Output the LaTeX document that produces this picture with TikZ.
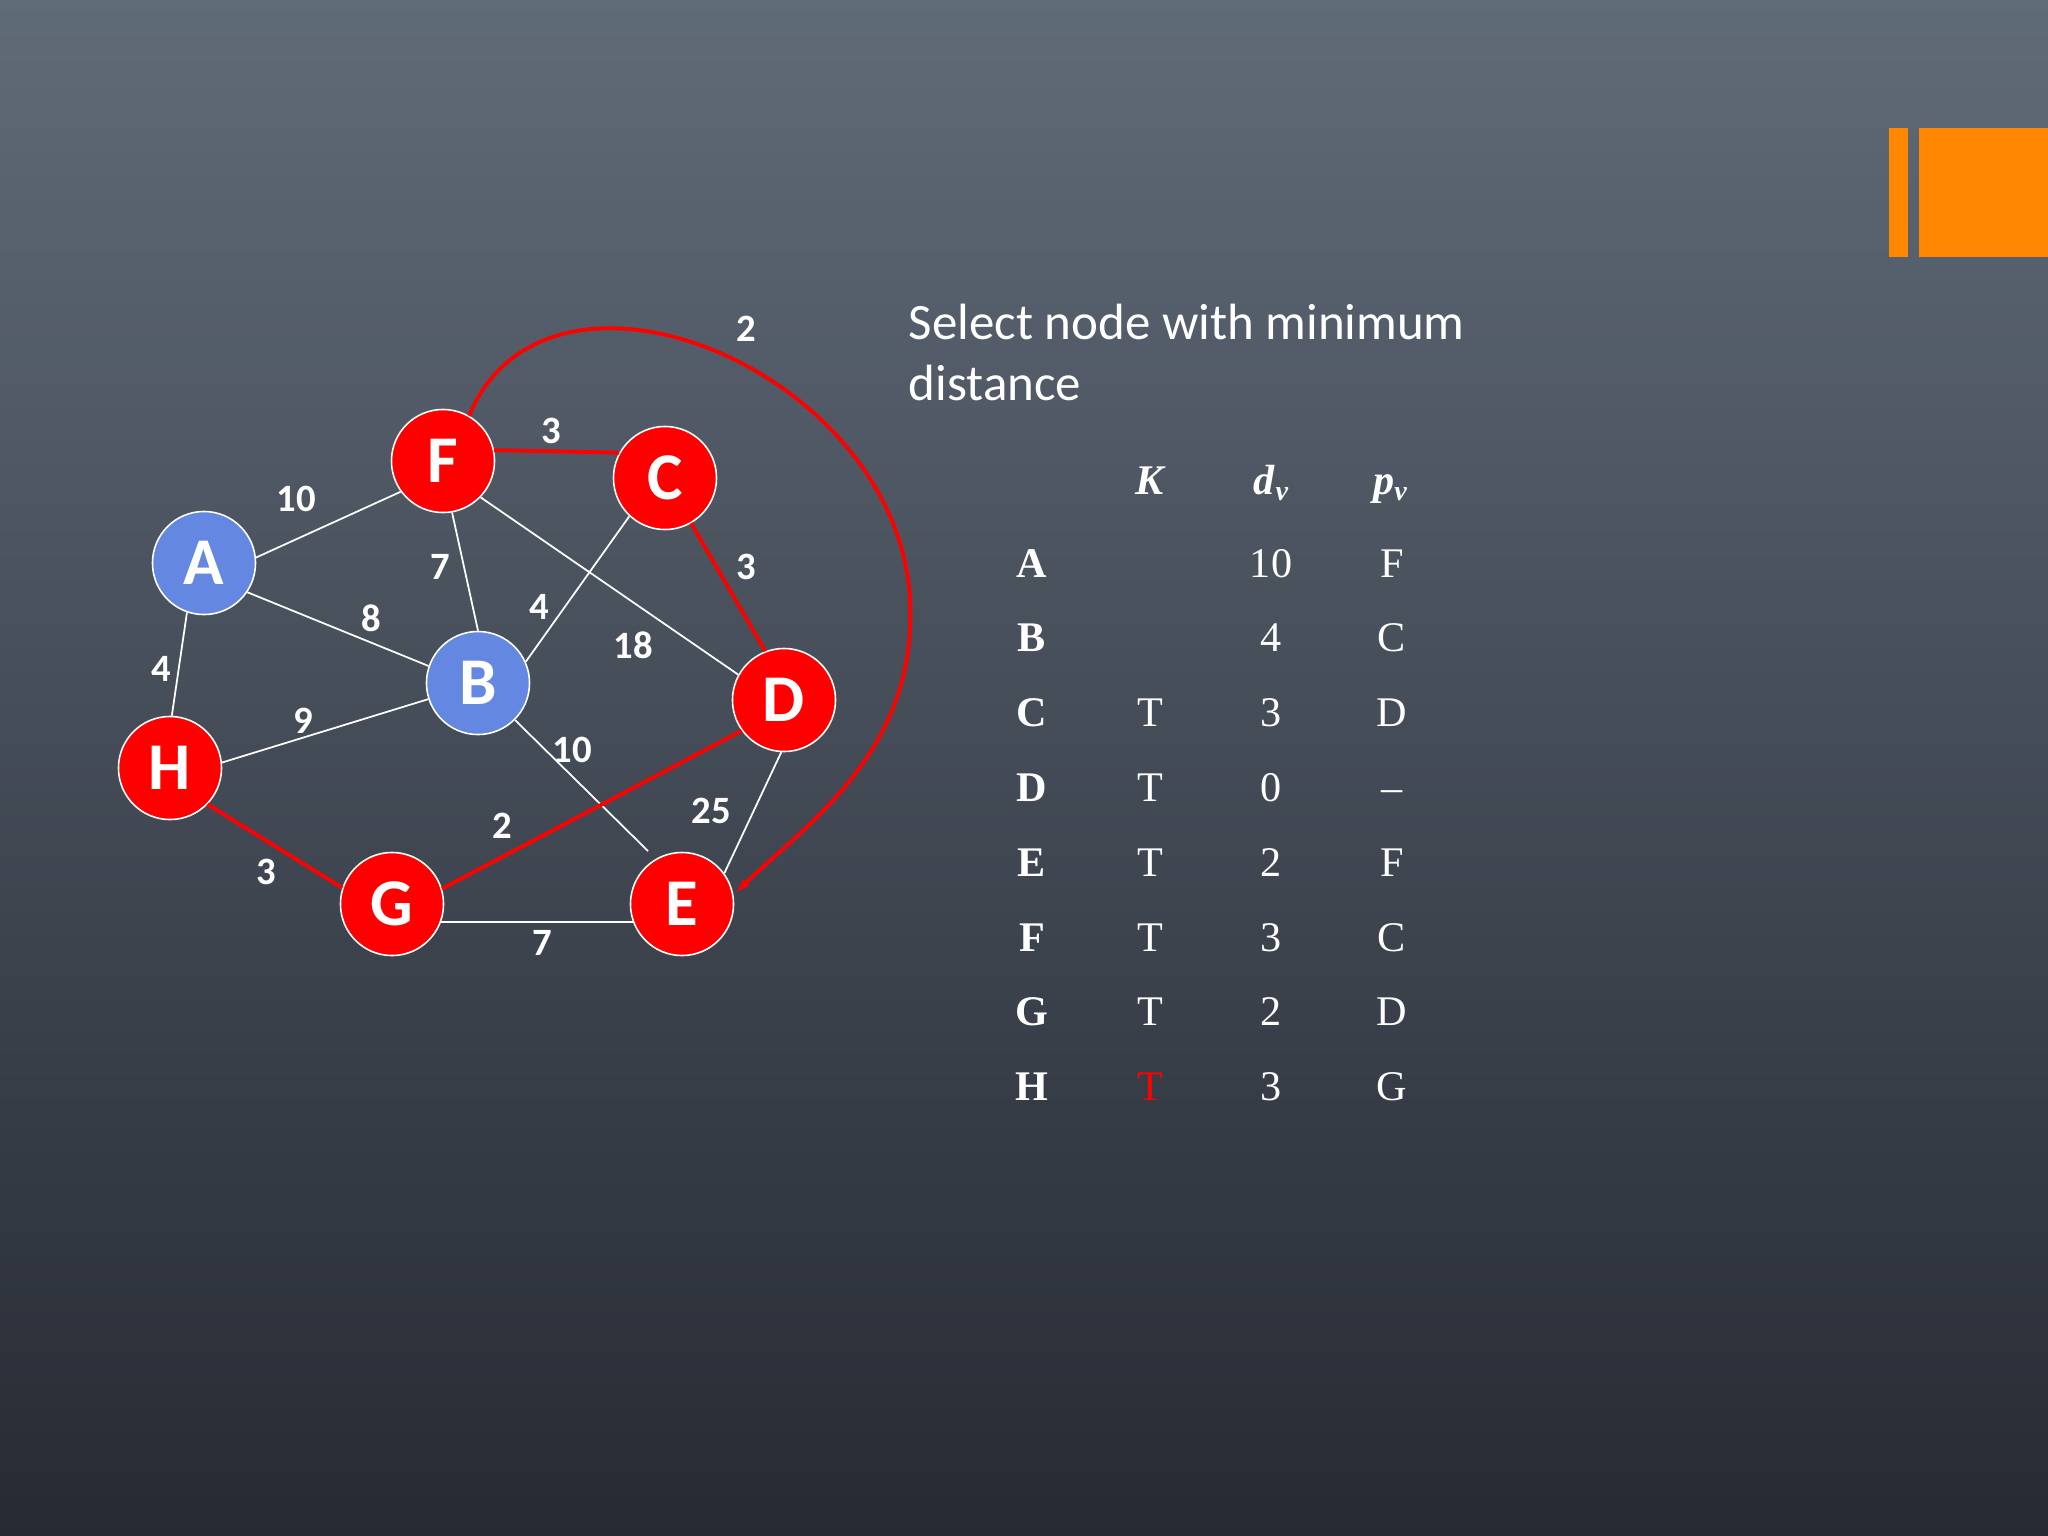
\documentclass[tikz,border=0pt]{standalone}
\usepackage{fontspec}
\setmainfont{Liberation Serif}
\newfontfamily\calfont{Carlito}
\usetikzlibrary{arrows.meta}
\definecolor{bgtop}{RGB}{96,107,120}
\definecolor{bgbot}{RGB}{38,42,51}
\definecolor{vblue}{RGB}{100,135,225}
\definecolor{vred}{RGB}{255,0,0}
\definecolor{barorange}{RGB}{255,136,0}

\begin{document}
\begin{tikzpicture}[x=0.01cm,y=-0.01cm,
  vtx/.style={circle,draw=white,line width=0.45pt,minimum size=1.03cm,inner sep=0pt,
    text=white,font=\calfont\bfseries\fontsize{19}{19}\selectfont},
  bvtx/.style={vtx,fill=vblue},
  rvtx/.style={vtx,fill=vred},
  wedge/.style={draw=white,line width=0.5pt},
  redge/.style={draw=vred,line width=1.1pt},
  wlab/.style={text=white,inner sep=0pt,font=\calfont\bfseries\fontsize{11}{11}\selectfont},
  cell/.style={anchor=base,text=white,inner sep=0pt,font=\fontsize{12}{12}\selectfont}]
\useasboundingbox (0,0) rectangle (2048,1536);
\shade[top color=bgtop,bottom color=bgbot] (0,0) rectangle (2048,1536);
\fill[barorange] (1889,128) rectangle (1908,257);
\fill[barorange] (1919,128) rectangle (2048,257);

% vertices
\node[bvtx] (A) at (204,563) {A};
\node[rvtx] (F) at (443,461) {F};
\node[rvtx] (C) at (665,478) {C};
\node[bvtx] (B) at (478,683) {B};
\node[rvtx] (D) at (784,700) {D};
\node[rvtx] (H) at (170,768) {H};
\node[rvtx] (G) at (392,904) {G};
\node[rvtx] (E) at (682,904) {E};
\coordinate (BEend) at (648,851);

% edges
\draw[wedge] (A.6) -- (F.216);
\draw[wedge] (A.-34) -- (B.161);
\draw[wedge] (A.-109) -- (H.88);
\draw[wedge] (F.-80) -- (B.90);
\draw[wedge] (C.227) -- (B.24);
\draw[wedge] (F.-44) -- (D.151);
\draw[wedge] (H.6) -- (B.198);
\draw[wedge] (B.-45) -- (BEend);
\draw[wedge] (D.267) -- (E.36);
\draw[wedge] (G.-20) -- (E.200);
\draw[redge] (F.12) -- (C.151);
\draw[redge] (C.-60) -- (D.111);
\draw[redge] (D.216) -- (G.17);
\draw[redge] (H.-44) -- (G.162);
\draw[redge,-{Latex[length=5pt,width=2.6pt]}] (F.60) .. controls (550,220) and (925,380) .. (910,627)
  .. controls (905,760) and (800,830) .. (E.10);

% weights
\node[wlab] (wAF) at (296,499) {10};
\node[wlab] (wFC) at (551,431) {3};
\node[wlab] (wFE) at (746,329) {2};
\node[wlab] (wFB) at (440,567) {7};
\node[wlab] (wCD) at (746,567) {3};
\node[wlab] (wAB) at (371,618) {8};
\node[wlab] (wCB) at (539,607) {4};
\node[wlab] (wFD) at (633,645) {18};
\node[wlab] (wAH) at (161,669) {4};
\node[wlab] (wHB) at (303,721) {9};
\node[wlab] (wBE) at (572,750) {10};
\node[wlab] (wDE) at (711,811) {25};
\node[wlab] (wDG) at (502,826) {2};
\node[wlab] (wHG) at (266,872) {3};
\node[wlab] (wGE) at (542,943) {7};

% title
\node[anchor=base west,text=white,inner sep=0pt,font=\calfont\fontsize{14.5}{14.5}\selectfont]
  (title1) at (908,339) {Select node with minimum};
\node[anchor=base west,text=white,inner sep=0pt,font=\calfont\fontsize{14.5}{14.5}\selectfont]
  (title2) at (908,400) {distance};

% table
\node[cell] (hK) at (1151,494) {\textbf{\textit{K}}};
\node[cell] (hd) at (1272,494) {\textbf{\textit{d}}\textsubscript{\textbf{\textit{v}}}};
\node[cell] (hp) at (1391,494) {\textbf{\textit{p}}\textsubscript{\textbf{\textit{v}}}};
\foreach \r/\d/\p [count=\i from 0] in {A/10/F,B/4/C,C/3/D,D/0/\textendash,E/2/F,F/3/C,G/2/D,H/3/G}{
  \node[cell] (row\r) at (1032,{577+74.8*\i}) {\textbf{\r}};
  \node[cell] (d\r) at (1271,{577+74.8*\i}) {\d};
  \node[cell] (p\r) at (1392,{577+74.8*\i}) {\p};
}
\foreach \r/\i in {C/2,D/3,E/4,F/5,G/6}
  \node[cell] (k\r) at (1150,{577+74.8*\i}) {T};
\node[cell,text=vred] (kH) at (1150,{577+74.8*7}) {T};
\end{tikzpicture}
\end{document}
